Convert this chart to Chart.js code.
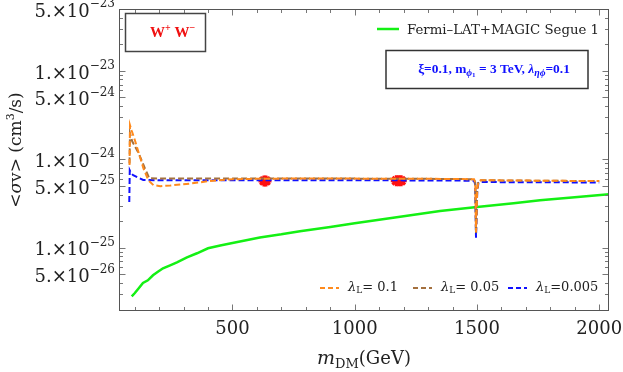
<!DOCTYPE html>
<html>
<head>
<meta charset="utf-8">
<script src="https://cdn.jsdelivr.net/npm/chart.js@4.4.1/dist/chart.umd.min.js"></script>
<style>
  html,body{margin:0;padding:0;background:#fff}
  #wrap{width:623px;height:372px;position:relative}
</style>
</head>
<body>
<div id="wrap"><canvas id="chart" width="623" height="372"></canvas></div>
<script>
// ---- values (m_DM in GeV, <sigma v> in cm^3/s) ----
const massL01   = [79, 81, 88, 101, 122, 136, 156, 177, 205, 246, 328, 410, 500, 600, 700, 800, 900, 1000, 1100, 1200, 1300, 1400, 1488, 1493, 1496, 1498, 1501, 1506, 1515, 1600, 1700, 1800, 1900, 2000];
const sigmaL01  = [8.6e-25, 2.43e-24, 2.1e-24, 1.64e-24, 1.06e-24, 7.9e-25, 5.8e-25, 5.1e-25, 4.97e-25, 5.06e-25, 5.32e-25, 5.7e-25, 5.95e-25, 6.02e-25, 6.05e-25, 6.06e-25, 6.06e-25, 6.05e-25, 6.04e-25, 6.03e-25, 6.02e-25, 6.0e-25, 5.95e-25, 5.5e-25, 1.51e-25, 2.3e-25, 4.6e-25, 5.6e-25, 5.8e-25, 5.78e-25, 5.75e-25, 5.72e-25, 5.7e-25, 5.68e-25];
const massL005  = [79, 81, 90, 117, 142, 160, 200, 300, 400, 500, 600, 800, 1000, 1200, 1400, 1488, 1493, 1496, 1498, 1501, 1506, 1515, 1600, 1800, 2000];
const sigmaL005 = [9.0e-25, 1.97e-24, 1.6e-24, 1.16e-24, 7.9e-25, 6.1e-25, 6.08e-25, 6.07e-25, 6.06e-25, 6.06e-25, 6.06e-25, 6.06e-25, 6.05e-25, 6.03e-25, 6.0e-25, 5.95e-25, 5.45e-25, 1.45e-25, 2.2e-25, 4.5e-25, 5.6e-25, 5.8e-25, 5.78e-25, 5.72e-25, 5.68e-25];
const massL0005 = [78, 80, 85, 94, 135, 200, 300, 400, 500, 600, 800, 1000, 1200, 1400, 1488, 1493, 1496, 1498, 1501, 1506, 1515, 1600, 1800, 2000];
const sigmaL0005= [3.3e-25, 7.5e-25, 7.0e-25, 6.6e-25, 5.85e-25, 5.8e-25, 5.8e-25, 5.8e-25, 5.8e-25, 5.8e-25, 5.8e-25, 5.8e-25, 5.78e-25, 5.76e-25, 5.72e-25, 5.2e-25, 1.3e-25, 2.0e-25, 4.3e-25, 5.4e-25, 5.55e-25, 5.52e-25, 5.5e-25, 5.47e-25];
const fermiMass  = [88, 100, 115, 134, 154, 175, 195, 216, 245, 273, 314, 355, 400, 450, 500, 612, 700, 776, 900, 1000, 1100, 1200, 1349, 1500, 1650, 1758, 1900, 2040];
const fermiSigma = [2.82e-26, 3.06e-26, 3.44e-26, 4.0e-26, 4.29e-26, 4.89e-26, 5.35e-26, 5.86e-26, 6.34e-26, 6.85e-26, 7.81e-26, 8.67e-26, 9.87e-26, 1.06e-25, 1.13e-25, 1.31e-25, 1.42e-25, 1.54e-25, 1.72e-25, 1.89e-25, 2.07e-25, 2.27e-25, 2.61e-25, 2.89e-25, 3.18e-25, 3.44e-25, 3.72e-25, 4.03e-25];
const starMass  = [629, 637, 1170, 1180, 1190];
const starSigma = [5.7e-25, 5.7e-25, 5.72e-25, 5.72e-25, 5.72e-25];

const xTickValues = [500, 1000, 1500, 2000];
const yTickValues = [5e-23, 1e-23, 5e-24, 1e-24, 5e-25, 1e-25, 5e-26];
const lambdaLabels = ['0.1', '0.05', '0.005'];

const SERIF = '"DejaVu Serif", "Liberation Serif", serif';
const TIMES = '"Liberation Serif", "DejaVu Serif", serif';
const COL_ORANGE = '#ff8a1c', COL_BROWN = '#a4703e', COL_BLUE = '#1010ff', COL_GREEN = '#14f014';

const pts = (xs, ys) => xs.map((m, i) => ({x: m, y: ys[i]}));

// draw a row of text pieces (font, offset) starting at x
function runsWidth(ctx, runs) {
  let w = 0;
  runs.forEach(r => { ctx.font = r.font; w += ctx.measureText(r.t).width; });
  return w;
}
function drawRuns(ctx, runs, x, y, color) {
  let cx = x;
  runs.forEach(r => {
    ctx.font = r.font; ctx.fillStyle = r.color || color;
    ctx.fillText(r.t, cx, y + (r.dy || 0));
    cx += ctx.measureText(r.t).width;
  });
  return cx;
}

const frameAndText = {
  id: 'frameAndText',
  afterDraw(chart) {
    const ctx = chart.ctx, ca = chart.chartArea, xs = chart.scales.x, ys = chart.scales.y;
    const L = Math.round(ca.left) + 0.5, R = Math.round(ca.right) - 0.5;
    const T = Math.round(ca.top) + 0.5, B = Math.round(ca.bottom) - 0.5;
    ctx.save();
    // inward tick marks on all four sides
    ctx.strokeStyle = '#777'; ctx.lineWidth = 1;
    ctx.beginPath();
    for (let m = 100; m <= 2000; m += 100) {
      const px = Math.round(xs.getPixelForValue(m)) + 0.5;
      const len = m % 500 === 0 ? 6 : 3.5;
      ctx.moveTo(px, B); ctx.lineTo(px, B - len);
      ctx.moveTo(px, T); ctx.lineTo(px, T + len);
    }
    for (let e = -27; e <= -22; e++) {
      for (let k = 1; k <= 9; k++) {
        const v = k * Math.pow(10, e);
        if (v < ys.min || v > ys.max * 1.0001) continue;
        const py = Math.round(ys.getPixelForValue(v)) + 0.5;
        const len = (k === 1 || k === 5) ? 6 : 3.5;
        ctx.moveTo(L, py); ctx.lineTo(L + len, py);
        ctx.moveTo(R, py); ctx.lineTo(R - len, py);
      }
    }
    ctx.stroke();
    ctx.strokeStyle = '#555';
    ctx.strokeRect(L, T, R - L, B - T);

    // y tick labels  "5.×10^-23"
    ctx.textBaseline = 'middle';
    yTickValues.forEach(v => {
      const e = Math.floor(Math.log10(v) + 1e-9);
      const mant = Math.round(v / Math.pow(10, e));
      const py = ys.getPixelForValue(v);
      const runs = [
        {t: mant + '.×10', font: '18px ' + SERIF, dy: 3},
        {t: '−' + Math.abs(e), font: '12px ' + SERIF, dy: -5}
      ];
      drawRuns(ctx, runs, 115 - runsWidth(ctx, runs), py, '#222');
    });

    // y axis title
    ctx.save();
    ctx.translate(17, 150); ctx.rotate(-Math.PI / 2);
    const yt = [
      {t: '<', font: '17px ' + SERIF},
      {t: 'σ', font: 'italic 17px ' + SERIF},
      {t: 'v> (cm', font: '17px ' + SERIF},
      {t: '3', font: '11px ' + SERIF, dy: -6},
      {t: '/s)', font: '17px ' + SERIF}
    ];
    drawRuns(ctx, yt, -runsWidth(ctx, yt) / 2, 0, '#222');
    ctx.restore();

    // x axis title  m_DM(GeV)
    ctx.textBaseline = 'alphabetic';
    const xt = [
      {t: 'm', font: 'italic 19px ' + SERIF},
      {t: 'DM', font: '13px ' + SERIF, dy: 4},
      {t: '(GeV)', font: '18px ' + SERIF}
    ];
    drawRuns(ctx, xt, (ca.left + ca.right) / 2 - runsWidth(ctx, xt) / 2, 364, '#222');

    // W+W- box
    ctx.lineWidth = 1.5; ctx.strokeStyle = '#444';
    ctx.strokeRect(125.5, 13.5, 80, 38);
    ctx.textBaseline = 'middle';
    const ww = [
      {t: 'W', font: 'bold 15px ' + TIMES},
      {t: '+', font: 'bold 10px ' + TIMES, dy: -5},
      {t: ' W', font: 'bold 15px ' + TIMES},
      {t: '−', font: 'bold 10px ' + TIMES, dy: -5}
    ];
    drawRuns(ctx, ww, 172.5 - runsWidth(ctx, ww) / 2, 33, '#f01010');

    // Fermi legend
    ctx.strokeStyle = COL_GREEN; ctx.lineWidth = 2.5;
    ctx.beginPath(); ctx.moveTo(377, 29); ctx.lineTo(399, 29); ctx.stroke();
    ctx.textBaseline = 'alphabetic';
    drawRuns(ctx, [{t: 'Fermi–LAT+MAGIC Segue 1', font: '13.3px ' + SERIF}], 407, 34, '#222');

    // parameter box
    ctx.lineWidth = 1.5; ctx.strokeStyle = '#333';
    ctx.strokeRect(386, 50.5, 202, 38);
    ctx.textBaseline = 'middle';
    const pb = [
      {t: 'ξ=0.1, m', font: 'bold 13.4px ' + TIMES},
      {t: 'ϕ', font: 'bold italic 10px ' + TIMES, dy: 3},
      {t: '1', font: 'bold 7px ' + TIMES, dy: 5},
      {t: ' = 3 TeV, ', font: 'bold 13.4px ' + TIMES},
      {t: 'λ', font: 'bold italic 13.4px ' + TIMES},
      {t: 'ηϕ', font: 'bold italic 10px ' + TIMES, dy: 3},
      {t: '=0.1', font: 'bold 13.4px ' + TIMES}
    ];
    drawRuns(ctx, pb, 494 - runsWidth(ctx, pb) / 2, 70, COL_BLUE);

    // lambda_L legend
    const legCols = [COL_ORANGE, COL_BROWN, COL_BLUE];
    const legX = [320, 413, 508];
    ctx.lineWidth = 2; ctx.setLineDash([5, 3]);
    lambdaLabels.forEach((lab, i) => {
      ctx.strokeStyle = legCols[i];
      ctx.beginPath(); ctx.moveTo(legX[i], 288); ctx.lineTo(legX[i] + 19, 288); ctx.stroke();
    });
    ctx.setLineDash([]);
    lambdaLabels.forEach((lab, i) => {
      const lr = [
        {t: 'λ', font: 'italic 13px ' + SERIF},
        {t: 'L', font: '9px ' + SERIF, dy: 3},
        {t: (lab === '0.005' ? '=' : '= ') + lab, font: '13px ' + SERIF}
      ];
      drawRuns(ctx, lr, legX[i] + 28, 288, '#222');
    });
    ctx.restore();
  }
};

const dashed = (label, xs, ys, col) => ({
  label, data: pts(xs, ys), borderColor: col, borderWidth: 2, borderDash: [6, 3],
  pointRadius: 0, tension: 0, fill: false
});

new Chart(document.getElementById('chart'), {
  type: 'line',
  data: {
    datasets: [
      dashed('λL= 0.1', massL01, sigmaL01, COL_ORANGE),
      dashed('λL= 0.05', massL005, sigmaL005, COL_BROWN),
      dashed('λL=0.005', massL0005, sigmaL0005, COL_BLUE),
      {label: 'Fermi–LAT+MAGIC Segue 1', data: pts(fermiMass, fermiSigma), borderColor: COL_GREEN,
       borderWidth: 2.5, pointRadius: 0, tension: 0, fill: false},
      {label: 'stars', data: pts(starMass, starSigma), showLine: false, pointStyle: 'star',
       pointRadius: 5.5, borderColor: '#ff1010', backgroundColor: '#ff1010', pointBorderWidth: 3}
    ]
  },
  options: {
    responsive: false, animation: false, devicePixelRatio: 1,
    layout: {padding: {top: 9, right: 14, left: 0, bottom: 0}},
    plugins: {legend: {display: false}, tooltip: {enabled: false}},
    scales: {
      x: {
        type: 'linear', min: 36, max: 2040,
        grid: {display: false, drawTicks: false}, border: {display: false},
        afterBuildTicks: s => { s.ticks = xTickValues.map(v => ({value: v})); },
        ticks: {font: {family: SERIF, size: 18}, color: '#222', padding: 8, maxRotation: 0, autoSkip: false,
                callback: v => String(v)},
        afterFit: s => { s.height = 61; s.paddingLeft = 0; s.paddingRight = 0; }
      },
      y: {
        type: 'logarithmic', min: 1.93e-26, max: 5e-23,
        grid: {display: false, drawTicks: false}, border: {display: false},
        ticks: {display: false},
        afterFit: s => { s.width = 119; s.paddingTop = 0; s.paddingBottom = 0; }
      }
    }
  },
  plugins: [frameAndText]
});
</script>
</body>
</html>
